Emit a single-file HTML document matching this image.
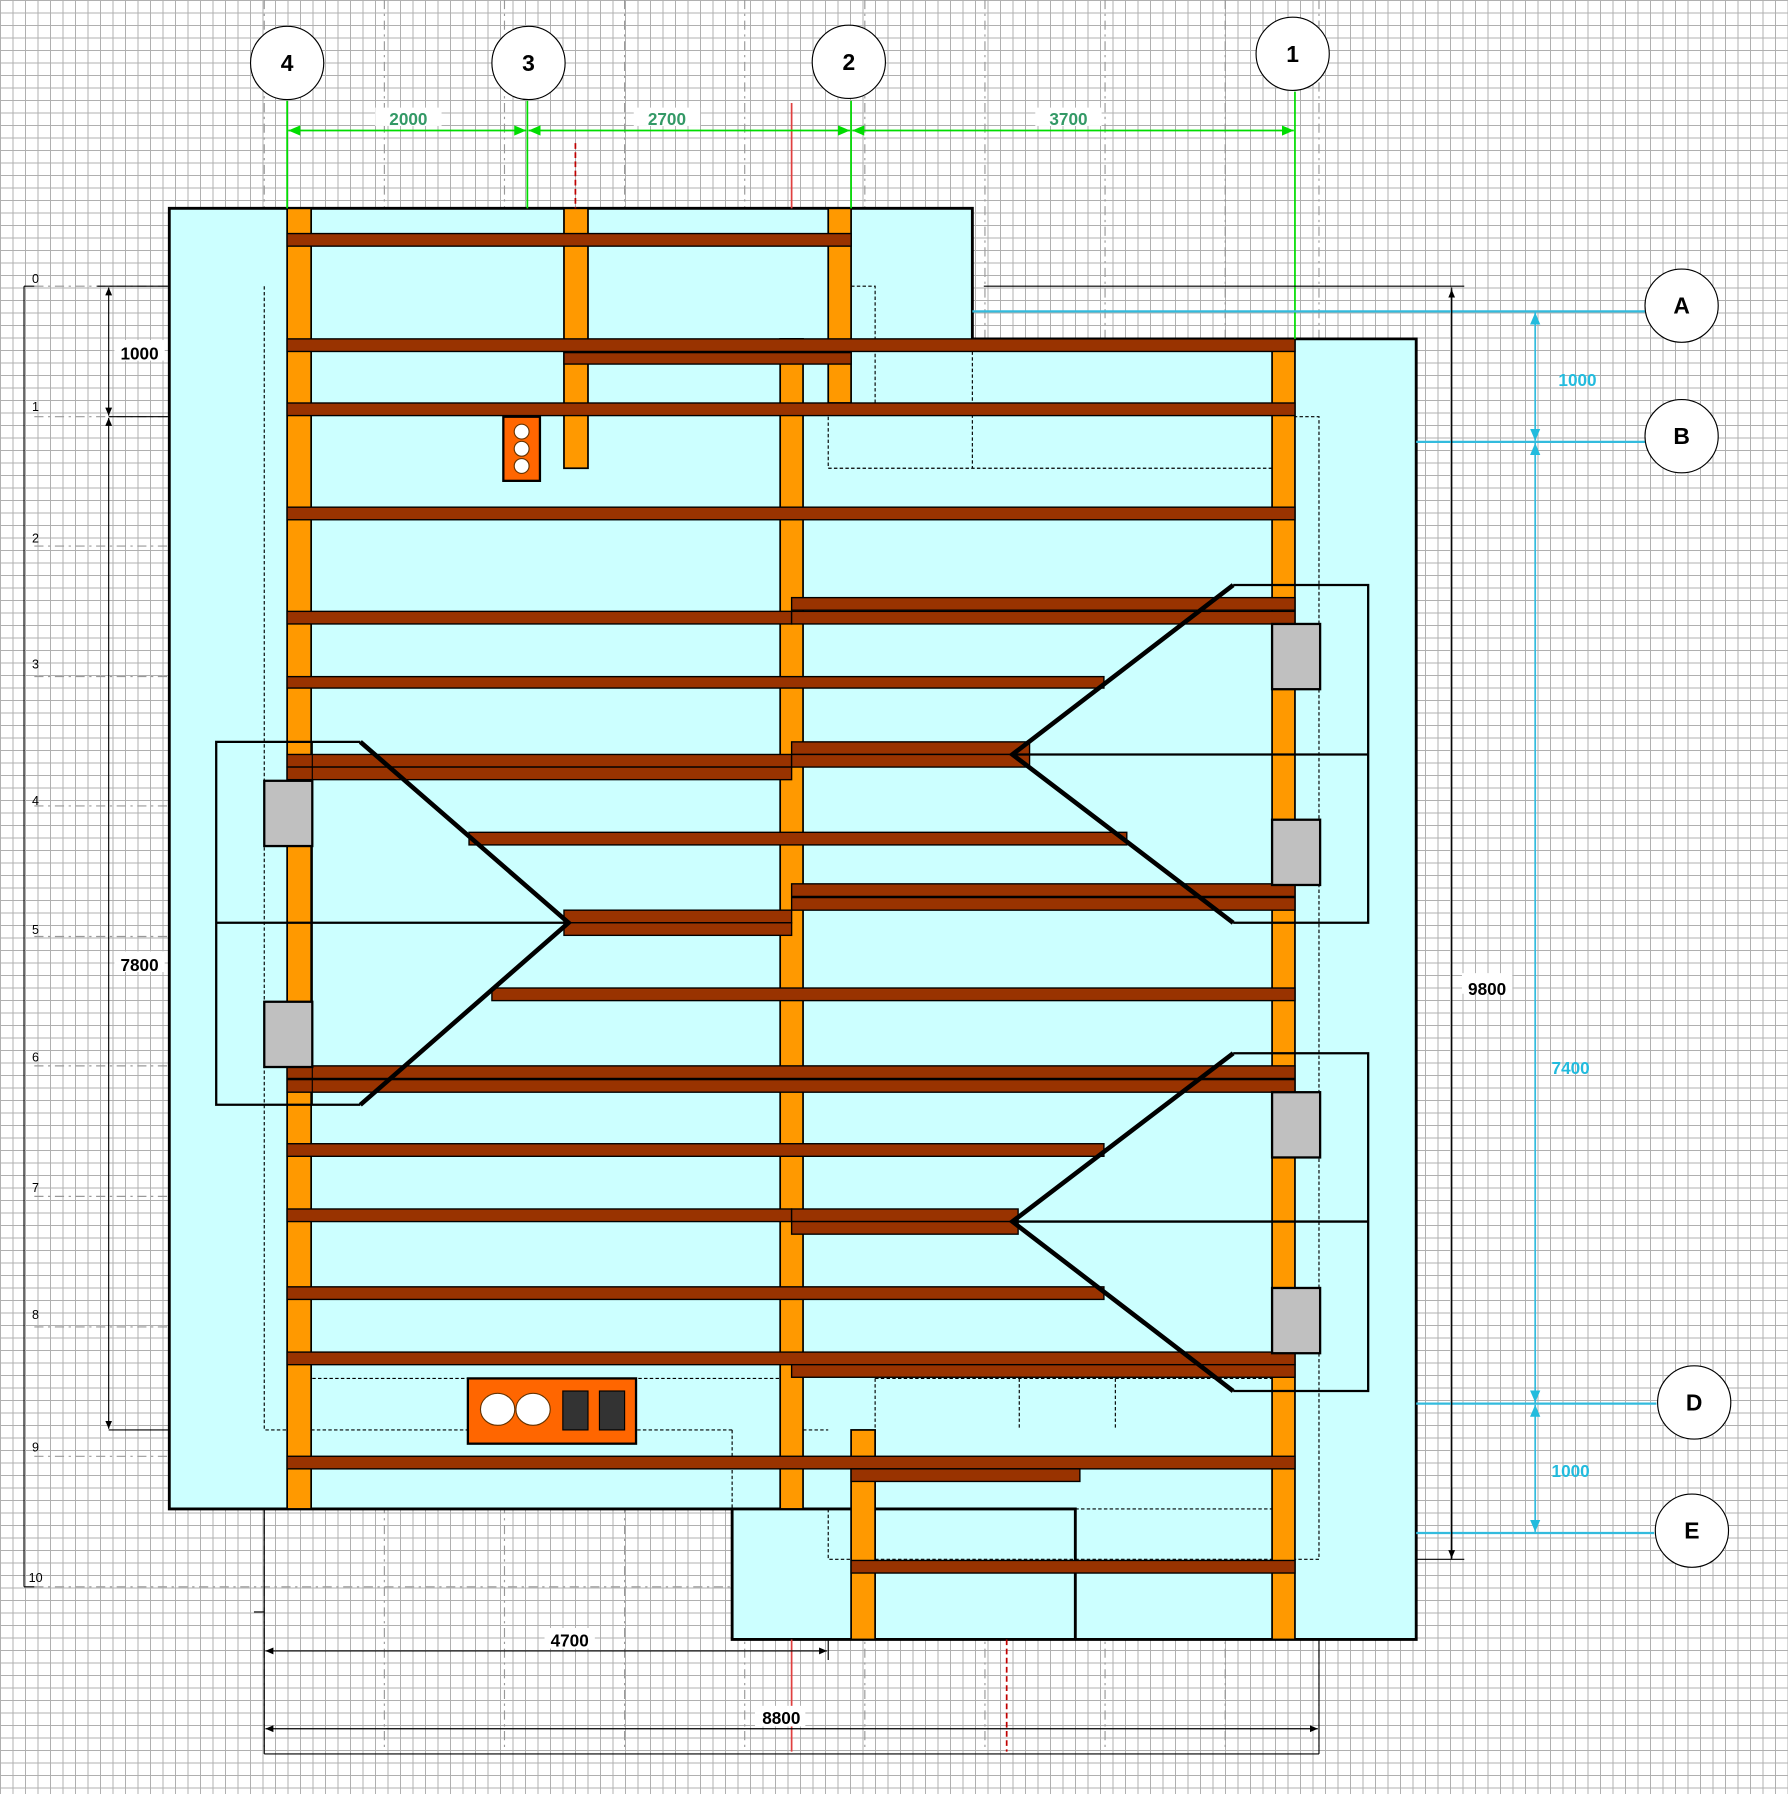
<!DOCTYPE html>
<html><head><meta charset="utf-8"><style>
html,body{margin:0;padding:0;width:1788px;height:1794px;overflow:hidden;background:#fff;
background-image:linear-gradient(to right,#b0b0b0 1px,transparent 1px),linear-gradient(to bottom,#b0b0b0 1px,transparent 1px);
background-size:12.5px 12.5px;}
svg{position:absolute;left:0;top:0}
text{font-family:"Liberation Sans",sans-serif;font-weight:bold}
</style></head><body>
<svg width="1788" height="1794" viewBox="0 0 1563 1567" preserveAspectRatio="none">
<defs>
<marker id="ag" markerWidth="8" markerHeight="8" refX="7" refY="4" orient="auto-start-reverse"><path d="M0,1 L7,4 L0,7z" fill="#00dd00"/></marker>
<marker id="ac" markerWidth="8" markerHeight="8" refX="7" refY="4" orient="auto-start-reverse"><path d="M0,1 L7,4 L0,7z" fill="#22bbdd"/></marker>
<marker id="ak" markerWidth="8" markerHeight="8" refX="7" refY="4" orient="auto-start-reverse"><path d="M0,1 L7,4 L0,7z" fill="#000"/></marker>
</defs>
<!-- grid axis dashed lines -->
<g stroke="#999" stroke-width="1" stroke-dasharray="8,4,2,4" fill="none">
<path d="M231 0V1530M336 0V1530M441 0V1530M546 0V1530M651 0V1530M756 0V1530M861 0V1530M966 0V1530M1071 0V1530M1153 0V1530"/>
<path d="M30 250H148M30 364H148M30 477H148M30 591H148M30 704H148M30 818H148M30 931H148M30 1045H148M30 1159H148M30 1272H148M30 1386H640"/>
</g>
<!-- left ruler -->
<path d="M21 250V1386M21 250H30M21 1386H30" stroke="#000" stroke-width="1"/>
<g font-size="11" font-weight="normal">
<text x="28" y="247" style="font-weight:normal">0</text><text x="28" y="359" style="font-weight:normal">1</text><text x="28" y="474" style="font-weight:normal">2</text><text x="28" y="584" style="font-weight:normal">3</text><text x="28" y="703" style="font-weight:normal">4</text><text x="28" y="816" style="font-weight:normal">5</text><text x="28" y="927" style="font-weight:normal">6</text><text x="28" y="1041" style="font-weight:normal">7</text><text x="28" y="1152" style="font-weight:normal">8</text><text x="28" y="1268" style="font-weight:normal">9</text><text x="25" y="1382" style="font-weight:normal">10</text>
</g>
<!-- main building outline -->
<path d="M148 182H850V296H1238V1432H640V1318H148Z" fill="#ccffff" stroke="#000" stroke-width="2.5"/>
<path d="M640 1318H940V1432" fill="none" stroke="#000" stroke-width="2.5"/>
<!-- dashed internal -->
<g fill="none" stroke="#000" stroke-width="1" stroke-dasharray="3,2">
<path d="M231 250V1249H640M640 1249V1318M702 1249H724M724 1318V1362H1153V364H1132"/>
<path d="M744 250H765V364M724 364V409H1112M850 307V409"/>
<path d="M273 1204H682M765 1204V1249M891 1204V1249M975 1204V1249M765 1204H1112M940 1318H1112"/>
</g>
<!-- columns -->
<g fill="#ff9900" stroke="#000" stroke-width="1.5">
<rect x="251" y="182" width="21" height="1136"/>
<rect x="493" y="182" width="21" height="227"/>
<rect x="724" y="182" width="20" height="170"/>
<rect x="682" y="296" width="20" height="1022"/>
<rect x="1112" y="296" width="20" height="1136"/>
<rect x="744" y="1249" width="21" height="183"/>
</g>
<!-- beams -->
<g fill="#993300" stroke="#000" stroke-width="1.2">
<rect x="251" y="204" width="493" height="11"/>
<rect x="251" y="296" width="881" height="11"/>
<rect x="493" y="308" width="251" height="10"/>
<rect x="251" y="352" width="881" height="11"/>
<rect x="251" y="443" width="881" height="11"/>
<rect x="251" y="534" width="441" height="11"/>
<rect x="692" y="522" width="440" height="11"/>
<rect x="692" y="534" width="440" height="11"/>
<rect x="251" y="591" width="714" height="10"/>
<rect x="251" y="659" width="441" height="11"/>
<rect x="251" y="670" width="441" height="11"/>
<rect x="692" y="648" width="208" height="11"/>
<rect x="692" y="659" width="208" height="11"/>
<rect x="410" y="727" width="575" height="11"/>
<rect x="692" y="772" width="440" height="11"/>
<rect x="692" y="784" width="440" height="11"/>
<rect x="493" y="795" width="199" height="11"/>
<rect x="493" y="806" width="199" height="11"/>
<rect x="430" y="863" width="702" height="11"/>
<rect x="251" y="931" width="881" height="11"/>
<rect x="251" y="943" width="881" height="11"/>
<rect x="251" y="999" width="714" height="11"/>
<rect x="251" y="1056" width="441" height="11"/>
<rect x="692" y="1056" width="198" height="11"/>
<rect x="692" y="1067" width="198" height="11"/>
<rect x="251" y="1124" width="714" height="11"/>
<rect x="251" y="1181" width="881" height="11"/>
<rect x="692" y="1192" width="440" height="11"/>
<rect x="251" y="1272" width="881" height="11"/>
<rect x="744" y="1283" width="200" height="11"/>
<rect x="744" y="1363" width="388" height="11"/>
</g>
<!-- grey boxes -->
<g fill="#c0c0c0" stroke="#000" stroke-width="2">
<rect x="1112" y="545" width="42" height="57"/><rect x="1112" y="716" width="42" height="57"/>
<rect x="1112" y="954" width="42" height="57"/><rect x="1112" y="1125" width="42" height="57"/>
<rect x="231" y="682" width="42" height="57"/><rect x="231" y="875" width="42" height="57"/>
</g>
<!-- outlined stair frames -->
<g fill="none" stroke="#000" stroke-width="2">
<path d="M1078 511H1196V806H1078M885 659H1196"/>
<path d="M1078 920H1196V1215H1078M885 1067H1196"/>
<path d="M315 648H189V965H315M189 806H497"/>
<path d="M273 648V965" stroke-width="1"/>
</g>
<g fill="none" stroke="#000" stroke-width="4">
<path d="M315 648L497 806L315 965"/>
<path d="M1078 511L885 659L1078 806"/>
<path d="M1078 920L885 1067L1078 1215"/>
</g>
<!-- orange blocks -->
<rect x="440" y="364" width="32" height="56" fill="#ff6600" stroke="#000" stroke-width="2"/>
<g fill="#fff" stroke="#663300" stroke-width="1"><circle cx="456" cy="377" r="6.5"/><circle cx="456" cy="392" r="6.5"/><circle cx="456" cy="407" r="6.5"/></g>
<rect x="409" y="1204" width="147" height="57" fill="#ff6600" stroke="#000" stroke-width="2"/>
<g fill="#fff" stroke="#663300"><ellipse cx="435" cy="1231" rx="15" ry="14"/><ellipse cx="466" cy="1231" rx="15" ry="14"/></g>
<g fill="#333" stroke="#000"><rect x="492" y="1215" width="22" height="34"/><rect x="524" y="1215" width="22" height="34"/></g>
<!-- red lines -->
<path d="M692 90V182M692 1432V1530" stroke="#e04040" stroke-width="1.5"/>
<path d="M503 125V182M880 1432V1530" stroke="#c00000" stroke-width="1.5" stroke-dasharray="5,3"/>
<!-- green dims -->
<g stroke="#00dd00" stroke-width="1.5" fill="none">
<path d="M251 88V182M461 88V182M744 88V182M1132 80V296"/>
<path d="M252 114H460" marker-start="url(#ag)" marker-end="url(#ag)"/>
<path d="M462 114H743" marker-start="url(#ag)" marker-end="url(#ag)"/>
<path d="M745 114H1131" marker-start="url(#ag)" marker-end="url(#ag)"/>
</g>
<g fill="#339966" font-size="15" text-anchor="middle">
<rect x="328" y="94" width="58" height="16" fill="#fff"/><text x="357" y="109">2000</text>
<rect x="554" y="94" width="58" height="16" fill="#fff"/><text x="583" y="109">2700</text>
<rect x="905" y="94" width="58" height="16" fill="#fff"/><text x="934" y="109">3700</text>
</g>
<!-- cyan dims -->
<g stroke="#33bbdd" stroke-width="2" fill="none">
<path d="M850 272H1438M1238 386H1438M1238 1226H1448M1238 1339H1446"/>
<path d="M1342 273V385" marker-start="url(#ac)" marker-end="url(#ac)" stroke-width="1.5"/>
<path d="M1342 387V1225" marker-start="url(#ac)" marker-end="url(#ac)" stroke-width="1.5"/>
<path d="M1342 1227V1338" marker-start="url(#ac)" marker-end="url(#ac)" stroke-width="1.5"/>
</g>
<g fill="#22bbdd" font-size="15" text-anchor="middle">
<text x="1379" y="337">1000</text><text x="1373" y="938">7400</text><text x="1373" y="1290">1000</text>
</g>
<!-- black dims -->
<g stroke="#000" stroke-width="1" fill="none">
<path d="M860 250H1280M1238 1362H1280M1269 251V1361" />
<path d="M1269 253V1362" marker-start="url(#ak)"/>
<path d="M1269 1300V1361" marker-end="url(#ak)"/>
<path d="M85 250H148M95 364H148M95 1249H148"/>
<path d="M95 251V363" marker-start="url(#ak)" marker-end="url(#ak)"/>
<path d="M95 365V1248" marker-start="url(#ak)" marker-end="url(#ak)"/>
<path d="M231 1318V1532M724 1432V1450M1153 1432V1532M231 1532H1153M222 1408H231"/>
<path d="M232 1442H723" marker-start="url(#ak)" marker-end="url(#ak)"/>
<path d="M232 1510H1152" marker-start="url(#ak)" marker-end="url(#ak)"/>
</g>
<g fill="#000" font-size="15" text-anchor="middle">
<rect x="1278" y="850" width="44" height="18" fill="#fff"/><text x="1300" y="869">9800</text>
<rect x="100" y="297" width="44" height="18" fill="#fff"/><text x="122" y="314">1000</text>
<rect x="100" y="831" width="44" height="18" fill="#fff"/><text x="122" y="848">7800</text>
<rect x="476" y="1422" width="44" height="18" fill="#fff"/><text x="498" y="1438">4700</text>
<rect x="660" y="1490" width="44" height="18" fill="#fff"/><text x="683" y="1506">8800</text>
</g>
<!-- circles -->
<g fill="#fff" stroke="#000" stroke-width="1">
<circle cx="251" cy="55" r="32"/><circle cx="462" cy="55" r="32"/><circle cx="742" cy="54" r="32"/><circle cx="1130" cy="47" r="32"/>
<circle cx="1470" cy="267" r="32"/><circle cx="1470" cy="381" r="32"/><circle cx="1481" cy="1225" r="32"/><circle cx="1479" cy="1337" r="32"/>
</g>
<g fill="#000" font-size="20" text-anchor="middle">
<text x="251" y="62">4</text><text x="462" y="62">3</text><text x="742" y="61">2</text><text x="1130" y="54">1</text>
<text x="1470" y="274">A</text><text x="1470" y="388">B</text><text x="1481" y="1232">D</text><text x="1479" y="1344">E</text>
</g>
</svg>
</body></html>
